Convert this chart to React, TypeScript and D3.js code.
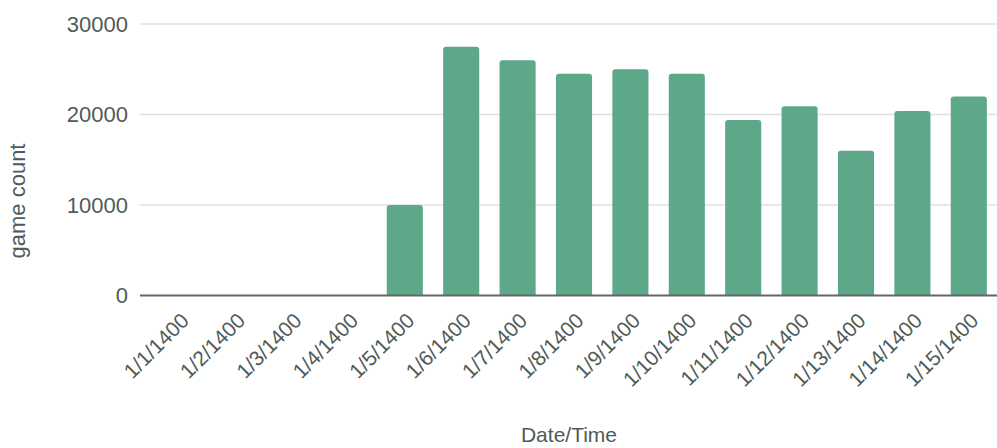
import React from "react";
import * as d3 from "d3";

const categories = [
  "1/1/1400", "1/2/1400", "1/3/1400", "1/4/1400", "1/5/1400",
  "1/6/1400", "1/7/1400", "1/8/1400", "1/9/1400", "1/10/1400",
  "1/11/1400", "1/12/1400", "1/13/1400", "1/14/1400", "1/15/1400",
];
const gameCount = [0, 0, 0, 0, 10000, 27500, 26000, 24500, 25000, 24500, 19400, 20900, 16000, 20400, 22000];
const yTicks = [0, 10000, 20000, 30000];

const W = 997;
const H = 448;
const plotLeft = 140;
const plotRight = 997;
const y0 = 295.5;
const yTop = 24;

const FONT = "'Liberation Sans', Arial, sans-serif";
const TEXT = "#505b58";
const BAR = "#5da889";

function topRoundedRect(x: number, y: number, w: number, h: number, r: number) {
  if (h <= 0) return "";
  const rr = Math.min(r, h, w / 2);
  return `M${x},${y + h}V${y + rr}Q${x},${y} ${x + rr},${y}H${x + w - rr}Q${x + w},${y} ${x + w},${y + rr}V${y + h}Z`;
}

export default function App() {
  const x = d3.scaleBand<string>().domain(categories).range([151, 997]).paddingInner(0.36).paddingOuter(0.18);
  const y = d3.scaleLinear().domain([0, 30000]).range([y0, yTop]);

  return (
    <svg width={W} height={H} style={{ position: "absolute", left: 0, top: 0, background: "#fff" }}>
      {yTicks.map((t) => (
        <g key={t}>
          {t !== 0 && (
            <line x1={plotLeft} x2={plotRight} y1={y(t)} y2={y(t)} stroke="#e0e0e0" strokeWidth={1.5} />
          )}
          <text x={128} y={y(t)} dy="0.36em" textAnchor="end" fontFamily={FONT} fontSize={22} fill={TEXT}>
            {t}
          </text>
        </g>
      ))}
      {categories.map((c, i) => {
        const v = gameCount[i];
        const bx = x(c)!;
        const by = y(v);
        return <path key={c} d={topRoundedRect(bx, by, x.bandwidth(), y0 - by, 3)} fill={BAR} />;
      })}
      <line x1={plotLeft} x2={plotRight} y1={y0} y2={y0} stroke="#666" strokeWidth={1.8} />
      {categories.map((c) => {
        const cx = x(c)! + x.bandwidth() / 2 + 11;
        const cy = 322;
        return (
          <text
            key={c}
            transform={`translate(${cx},${cy}) rotate(-45)`}
            textAnchor="end"
            fontFamily={FONT}
            fontSize={21}
            fill={TEXT}
          >
            {c}
          </text>
        );
      })}
      <text x={569} y={442} textAnchor="middle" fontFamily={FONT} fontSize={21} fill={TEXT}>
        Date/Time
      </text>
      <text
        transform={`translate(25,201) rotate(-90)`}
        textAnchor="middle"
        fontFamily={FONT}
        fontSize={22}
        fill={TEXT}
      >
        game count
      </text>
    </svg>
  );
}
